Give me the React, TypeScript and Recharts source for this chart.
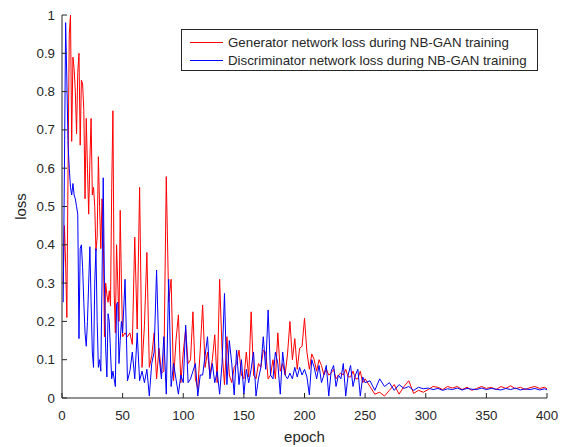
import React from "react";
import { LineChart, Line, XAxis, YAxis, Legend, Label } from "recharts";

const AXIS_COLOR = "#262626";
const FONT = "'Liberation Sans', Arial, Helvetica, sans-serif";

// epochs, sampled densely at the start where the curves move fastest
const epochsEarly = [
  1, 2, 3, 4, 5, 6, 7, 8, 9, 10, 11, 12, 13, 14, 15, 16, 17, 18, 19, 20,
  21, 22, 23, 24, 25, 26, 27, 28, 29, 30, 31, 32, 33, 34, 35, 36, 37, 38, 39, 40,
  41, 42, 43, 44, 45, 46, 47, 48, 49, 50,
];
const epochsMid = [
  52, 54, 56, 58, 60, 62, 64, 66, 68, 70, 72, 74, 76, 78, 80, 82, 84, 86, 88, 90,
  92, 94, 96, 98, 100, 102, 104, 106, 108, 110, 112, 114, 116, 118, 120, 122, 124, 126, 128, 130,
  132, 134, 136, 138, 140, 142, 144, 146, 148, 150, 152, 154, 156, 158, 160, 162, 164, 166, 168, 170,
  172, 174, 176, 178, 180, 182, 184, 186, 188, 190, 192, 194, 196, 198, 200, 202, 204, 206, 208, 210,
  212, 214, 216, 218, 220, 222, 224, 226, 228, 230, 232, 234, 236, 238, 240, 242, 244, 246, 248, 250,
];
const epochsLate = [
  254, 258, 262, 266, 270, 274, 278, 282, 286, 290, 294, 298, 302, 306, 310, 314, 318, 322, 326, 330,
  334, 338, 342, 346, 350, 354, 358, 362, 366, 370, 374, 378, 382, 386, 390, 394, 398, 400,
];

// generator loss
const genEarly = [
  0.3, 0.45, 0.35, 0.21, 0.6, 0.95, 1.0, 0.67, 0.89, 0.86,
  0.8, 0.69, 0.85, 0.9, 0.66, 0.83, 0.82, 0.75, 0.52, 0.73,
  0.6, 0.48, 0.62, 0.73, 0.53, 0.55, 0.5, 0.385, 0.42, 0.63,
  0.5, 0.39, 0.52, 0.45, 0.16, 0.3, 0.27, 0.25, 0.28, 0.24,
  0.55, 0.75, 0.28, 0.17, 0.4, 0.3, 0.2, 0.49, 0.3, 0.16,
];
const genMid = [
  0.17, 0.16, 0.17, 0.14, 0.42, 0.18, 0.55, 0.08, 0.19, 0.38,
  0.08, 0.11, 0.17, 0.05, 0.13, 0.065, 0.07, 0.578, 0.25, 0.31,
  0.045, 0.15, 0.217, 0.04, 0.12, 0.18, 0.09, 0.1, 0.225, 0.05,
  0.025, 0.125, 0.243, 0.08, 0.12, 0.06, 0.1, 0.165, 0.04, 0.31,
  0.125, 0.035, 0.16, 0.06, 0.04, 0.08, 0.09, 0.125, 0.06, 0.05,
  0.12, 0.055, 0.225, 0.06, 0.05, 0.09, 0.08, 0.125, 0.12, 0.05,
  0.06, 0.1, 0.05, 0.17, 0.07, 0.09, 0.06, 0.115, 0.2, 0.1,
  0.155, 0.075, 0.13, 0.135, 0.208, 0.12, 0.075, 0.115, 0.1, 0.07,
  0.1, 0.085, 0.06, 0.075, 0.06, 0.065, 0.075, 0.05, 0.06, 0.065,
  0.06, 0.075, 0.055, 0.055, 0.07, 0.05, 0.05, 0.07, 0.04, 0.05,
];
const genLate = [
  0.03, 0.01, 0.015, 0.005, 0.02, 0.035, 0.01, 0.03, 0.045, 0.012,
  0.02, 0.015, 0.022, 0.03, 0.028, 0.022, 0.03, 0.026, 0.03, 0.022,
  0.028, 0.02, 0.025, 0.03, 0.025, 0.028, 0.022, 0.03, 0.025, 0.032,
  0.024, 0.028, 0.022, 0.027, 0.03, 0.025, 0.028, 0.024,
];

// discriminator loss
const discEarly = [
  0.25, 0.6, 0.98, 0.83, 0.66, 0.6, 0.55, 0.53, 0.56, 0.53,
  0.52, 0.5, 0.48, 0.155, 0.39, 0.4, 0.34, 0.25, 0.17, 0.135,
  0.2, 0.3, 0.395, 0.25, 0.12, 0.08, 0.3, 0.39, 0.2, 0.08,
  0.1, 0.07, 0.3, 0.575, 0.3, 0.13, 0.055, 0.22, 0.2, 0.12,
  0.05, 0.07, 0.05, 0.03, 0.245, 0.25, 0.09, 0.15, 0.2, 0.17,
];
const discMid = [
  0.31, 0.045, 0.07, 0.12, 0.05, 0.17, 0.045, 0.07, 0.04, 0.075,
  0.005, 0.09, 0.12, 0.334, 0.11, 0.05, 0.16, 0.01, 0.31, 0.03,
  0.09, 0.05, 0.01, 0.06, 0.04, 0.19, 0.04, 0.05, 0.07, 0.09,
  0.005, 0.06, 0.06, 0.11, 0.16, 0.05, 0.09, 0.04, 0.07, 0.01,
  0.09, 0.273, 0.035, 0.15, 0.09, 0.008, 0.125, 0.035, 0.1, 0.01,
  0.075, 0.04, 0.075, 0.12, 0.005, 0.05, 0.08, 0.16, 0.075, 0.23,
  0.06, 0.05, 0.12, 0.09, 0.01, 0.12, 0.06, 0.05, 0.065, 0.05,
  0.08, 0.055, 0.08, 0.06, 0.075, 0.055, 0.008, 0.1, 0.08, 0.05,
  0.085, 0.04, 0.06, 0.085, 0.005, 0.07, 0.085, 0.03, 0.06, 0.05,
  0.09, 0.005, 0.06, 0.085, 0.03, 0.06, 0.075, 0.005, 0.055, 0.04,
];
const discLate = [
  0.045, 0.02, 0.05, 0.03, 0.04, 0.02, 0.035, 0.025, 0.03, 0.02,
  0.028, 0.024, 0.026, 0.022, 0.025, 0.02, 0.024, 0.022, 0.026, 0.021,
  0.025, 0.023, 0.022, 0.026, 0.022, 0.025, 0.023, 0.021, 0.025, 0.022,
  0.026, 0.021, 0.024, 0.022, 0.025, 0.021, 0.024, 0.022,
];

const xTicks = [0, 50, 100, 150, 200, 250, 300, 350, 400];
const yTicks = [0, 0.1, 0.2, 0.3, 0.4, 0.5, 0.6, 0.7, 0.8, 0.9, 1];

const SERIES = [
  { key: "gen", name: "Generator network loss during NB-GAN training", color: "#FF0000" },
  { key: "disc", name: "Discriminator network loss during NB-GAN training", color: "#0000FF" },
];

const epochs = [...epochsEarly, ...epochsMid, ...epochsLate];
const genLoss = [...genEarly, ...genMid, ...genLate];
const discLoss = [...discEarly, ...discMid, ...discLate];
const data = epochs.map((epoch, i) => ({ epoch, gen: genLoss[i], disc: discLoss[i] }));

// matlab style ticks: short marks pointing into the plot
const XTick = ({ x, y, payload }: any) => (
  <g>
    <line x1={x} y1={y} x2={x} y2={y - 5} stroke={AXIS_COLOR} />
    <text x={x} y={y + 22} textAnchor="middle" fill={AXIS_COLOR} fontSize={13.3} fontFamily={FONT}>
      {payload.value}
    </text>
  </g>
);

const YTick = ({ x, y, payload }: any) => (
  <g>
    <line x1={x} y1={y} x2={x + 5} y2={y} stroke={AXIS_COLOR} />
    <text x={x - 7} y={y + 4.5} textAnchor="end" fill={AXIS_COLOR} fontSize={13.3} fontFamily={FONT}>
      {payload.value}
    </text>
  </g>
);

const LegendBox = () => (
  <div
    style={{
      width: 357,
      height: 42,
      border: `1px solid ${AXIS_COLOR}`,
      boxSizing: "border-box",
      background: "#fff",
      position: "relative",
      fontFamily: FONT,
      fontSize: 13.3,
      color: AXIS_COLOR,
    }}
  >
    {SERIES.map((s, i) => (
      <div
        key={s.key}
        style={{
          position: "absolute",
          left: 0,
          top: 3 + i * 18,
          height: 18,
          display: "flex",
          alignItems: "center",
          whiteSpace: "nowrap",
        }}
      >
        <span
          style={{ display: "inline-block", marginLeft: 8, width: 33, height: 0, borderTop: `1px solid ${s.color}` }}
        />
        <span style={{ marginLeft: 5 }}>{s.name}</span>
      </div>
    ))}
  </div>
);

export default function App() {
  return (
    <div style={{ position: "absolute", top: 0, left: 0, width: 565, height: 447, background: "#fff" }}>
      <LineChart width={565} height={447} data={data} margin={{ top: 15, right: 18, left: 12, bottom: 0 }}>
        <XAxis
          dataKey="epoch"
          type="number"
          domain={[0, 400]}
          ticks={xTicks}
          interval={0}
          height={49}
          tickSize={0}
          tickMargin={0}
          tick={XTick}
          axisLine={{ stroke: AXIS_COLOR }}
        >
          <Label
            value="epoch"
            position="insideBottom"
            offset={5}
            style={{ fontSize: 15, fill: AXIS_COLOR, fontFamily: FONT }}
          />
        </XAxis>
        <YAxis
          type="number"
          domain={[0, 1]}
          ticks={yTicks}
          interval={0}
          width={50}
          tickSize={0}
          tickMargin={0}
          tick={YTick}
          axisLine={{ stroke: AXIS_COLOR }}
        >
          <Label
            value="loss"
            angle={-90}
            position="insideLeft"
            offset={9}
            style={{ textAnchor: "middle", fontSize: 15, fill: AXIS_COLOR, fontFamily: FONT }}
          />
        </YAxis>
        <Legend
          layout="vertical"
          align="center"
          verticalAlign="middle"
          content={LegendBox}
          wrapperStyle={{ left: 181, top: 29, width: 357, height: 42 }}
        />
        {SERIES.map((s) => (
          <Line
            key={s.key}
            dataKey={s.key}
            name={s.name}
            type="linear"
            stroke={s.color}
            strokeWidth={1}
            dot={false}
            activeDot={false}
            isAnimationActive={false}
          />
        ))}
      </LineChart>
    </div>
  );
}
